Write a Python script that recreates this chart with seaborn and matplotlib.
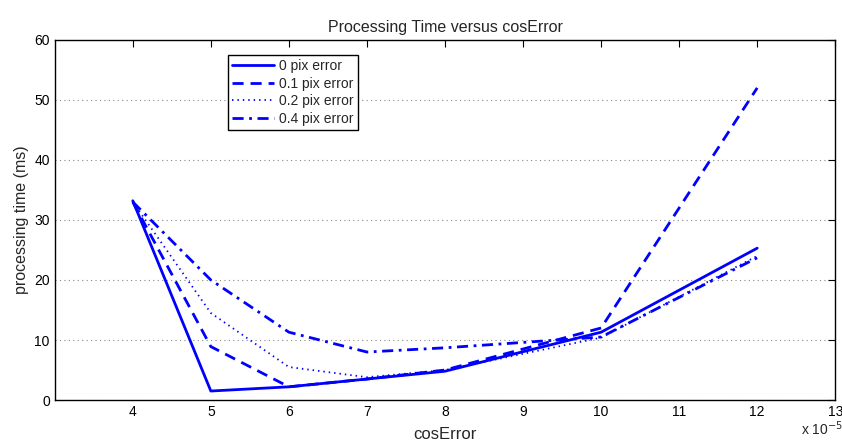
import matplotlib
matplotlib.use("Agg")
import matplotlib.pyplot as plt
import seaborn as sns
import pandas as pd

cos_error = [4, 5, 6, 7, 8, 10, 12]  # x 10^-5
err0 = [33.2, 1.5, 2.2, 3.5, 4.8, 11.3, 25.3]
err01 = [33.0, 8.9, 2.2, 3.5, 5.0, 12.0, 52.0]
err02 = [33.0, 14.5, 5.5, 3.8, 5.0, 10.4, 24.0]
err04 = [33.0, 20.0, 11.3, 8.0, 8.7, 10.5, 23.7]
series_names = ["0 pix error", "0.1 pix error", "0.2 pix error", "0.4 pix error"]
xticks = [4, 5, 6, 7, 8, 9, 10, 11, 12, 13]
yticks = [0, 10, 20, 30, 40, 50, 60]

rows = []
for name, vals in zip(series_names, [err0, err01, err02, err04]):
    for x, y in zip(cos_error, vals):
        rows.append({"cosError": x, "time": y, "series": name})
df = pd.DataFrame(rows)

sns.set_style("white")
plt.rcParams["font.family"] = ["Liberation Sans", "DejaVu Sans"]

fig = plt.figure(figsize=(8.42, 4.43), dpi=100)
ax = fig.add_axes([0.065, 0.097, 0.927, 0.813])

blue = "#0000ff"
dashes = {"0 pix error": "", "0.1 pix error": (4, 2.5),
          "0.2 pix error": (0.8, 2.2), "0.4 pix error": (4, 2, 1, 2)}
sns.lineplot(data=df, x="cosError", y="time", hue="series", style="series",
             palette={n: blue for n in series_names}, dashes=dashes,
             linewidth=2, ax=ax, legend=True)

ax.set_xlim(3, 13)
ax.set_ylim(0, 60)
ax.set_xticks(xticks)
ax.set_yticks(yticks)
ax.tick_params(direction="in", top=True, right=True, length=5, width=0.8,
               labelsize=10, colors="black")
ax.yaxis.grid(True, linestyle=(0, (1, 3)), color="#888888", linewidth=0.8)
ax.xaxis.grid(False)
for s in ax.spines.values():
    s.set_color("black")
    s.set_linewidth(1.0)

ax.set_title("Processing Time versus cosError", fontsize=11.5)
ax.set_xlabel("cosError", fontsize=12, labelpad=6)
ax.set_ylabel("processing time (ms)", fontsize=11.5)
fig.text(0.951, 0.012, r"x 10$^{-5}$", fontsize=10, ha="left", va="bottom")

leg = ax.legend(loc="upper left", bbox_to_anchor=(0.222, 0.958), borderaxespad=0,
                fancybox=False, framealpha=1, edgecolor="black", fontsize=10,
                handlelength=3.0, labelspacing=0.25, borderpad=0.3, handletextpad=0.4)
leg.get_frame().set_linewidth(1.0)

# thinner, lighter dotted series like the reference
for line in list(ax.lines) + list(leg.get_lines()):
    if line.get_label() == "0.2 pix error" or (line in ax.lines and ax.lines.index(line) == 2):
        line.set_linewidth(1.3)

fig.savefig("out.png", dpi=100)
